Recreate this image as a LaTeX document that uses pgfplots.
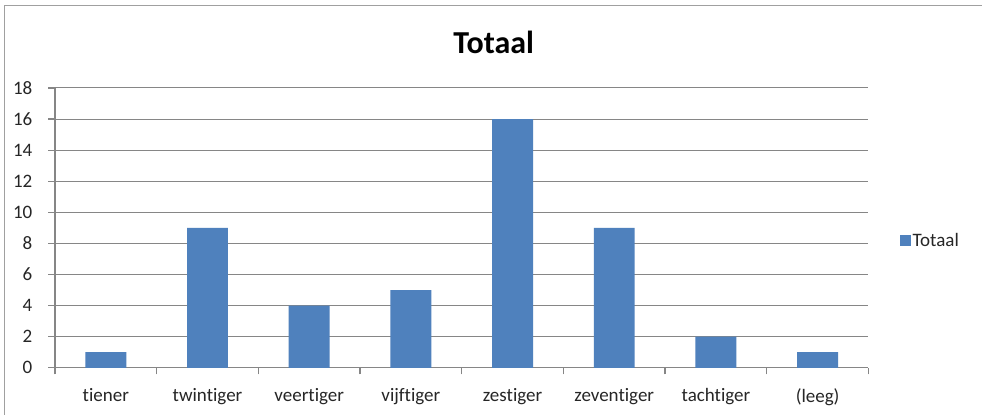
\documentclass[border=0pt]{standalone}
\usepackage{pgfplots}
\pgfplotsset{compat=1.18}
\usepackage{fontspec}
\setmainfont{Carlito}[Ligatures={NoCommon}]
\definecolor{barblue}{HTML}{4F81BD}
\definecolor{axgray}{HTML}{868686}
\definecolor{framegray}{HTML}{A0A0A0}
\begin{document}
\begin{tikzpicture}[x=1pt,y=1pt]
\fill[white] (0,0) rectangle (983,415);
\draw[framegray, line width=1.2pt] (4.5,0) -- (4.5,409.5) -- (983,409.5);
\node[font=\fontsize{32}{36}\selectfont\bfseries, anchor=base] at (494,415-53.3) {Totaal};
\begin{axis}[
  at={(55pt,47pt)}, anchor=south west,
  scale only axis, width=814pt, height=280pt,
  xmin=-0.5, xmax=7.5, ymin=0, ymax=18,
  ytick={0,2,...,18},
  xtick={-0.5,0.5,...,7.5},
  x tick label as interval,
  xticklabels={tiener,twintiger,veertiger,vijftiger,zestiger,zeventiger,tachtiger,(leeg)},
  axis x line*=bottom, axis y line*=left,
  axis line style={axgray, line width=1.2pt, -},
  ymajorgrids, grid style={axgray, line width=1pt},
  tick style={axgray, line width=1.2pt},
  tick align=outside,
  major tick length=6.5pt,
  font=\fontsize{19}{22}\selectfont,
  ticklabel style={font=\fontsize{19}{22}\selectfont, text=black!85},
  yticklabel style={inner sep=0pt, xshift=-16pt},
  xticklabel style={inner sep=0pt, yshift=-14pt},
  /pgf/number format/assume math mode=true,
  ybar, bar width=41pt,
  legend style={at={(axis description cs:1,0.4536)}, anchor=west, xshift=31pt, draw=none, fill=none, inner sep=0pt,
    font=\fontsize{19}{22}\selectfont, text=black!85},
  legend image code/.code={\fill[barblue] (0pt,-5.5pt) rectangle (11pt,5.5pt);},
]
\addplot[fill=barblue, draw=none] coordinates {(0,1) (1,9) (2,4) (3,5) (4,16) (5,9) (6,2) (7,1)};
\addlegendentry{Totaal}
\end{axis}
\end{tikzpicture}
\end{document}
